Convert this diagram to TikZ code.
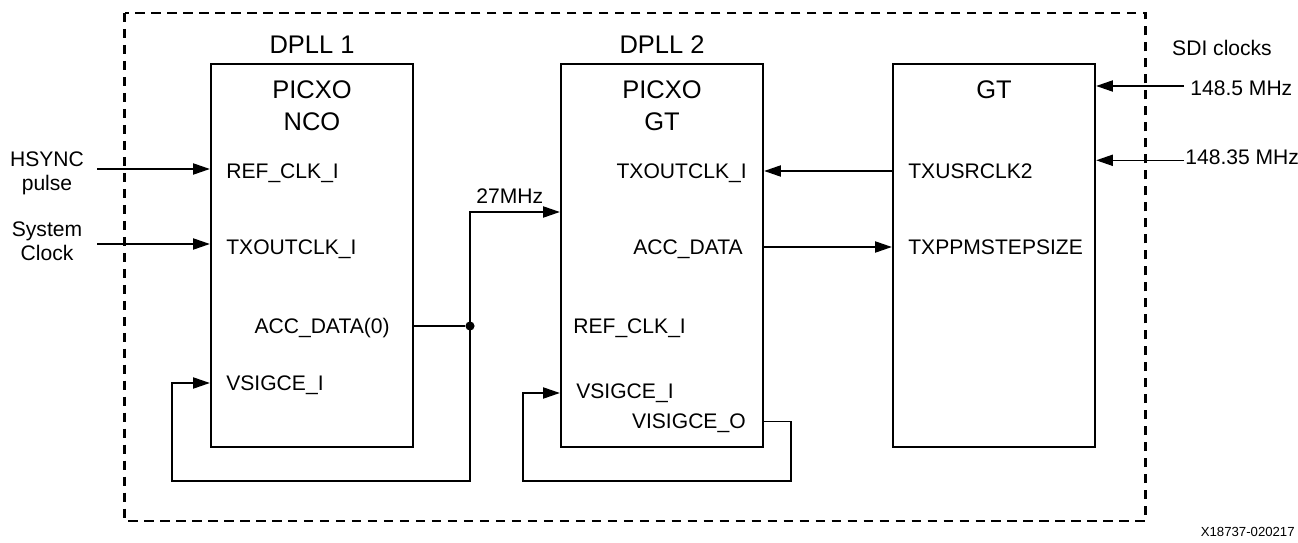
\documentclass[tikz,border=0pt]{standalone}
\usepackage{fontspec}
\setmainfont{Liberation Sans}
\usepackage{tikz}
\usetikzlibrary{arrows, arrows.meta, positioning, calc}
\tikzset{
  block/.style={draw, line width=1.4pt, minimum width=4.04cm,
                minimum height=7.66cm, inner sep=0pt},
  title/.style={font=\fontsize{14.5}{17}\selectfont, inner sep=0pt, anchor=base},
  port/.style={font=\fontsize{12}{13.8}\selectfont, inner sep=0pt},
  sig/.style={-{Triangle[length=9.5pt, width=6.4pt]}, line width=0.7pt},
  wire/.style={line width=0.7pt},
  frame/.style={line width=1.4pt, dash pattern=on 5.4pt off 3.7pt},
  dot/.style={circle, fill, inner sep=0pt, minimum size=5.2pt},
}

\begin{document}
\begin{tikzpicture}[x=0.02cm, y=-0.02cm]
  \useasboundingbox (0,0) rectangle (1298,543);

  % Frame
  \draw[frame] (124.5,13) rectangle (1145.5,521);

  % Blocks
  \node[block] (dpllone) at (312,255.5) {};
  \node[block] (dplltwo) at (662,255.5) {};
  \node[block] (gt) at (994,255.5) {};

  % Titles
  \node[title] (dpllonet) at (312,54) {DPLL 1};
  \node[title] (dplltwot) at (662,54) {DPLL 2};
  \node[title] (picxoone) at (312,98.7) {PICXO};
  \node[title] (nco) at (312,131) {NCO};
  \node[title] (picxotwo) at (662,98.7) {PICXO};
  \node[title] (gttwo) at (662,131) {GT};
  \node[title] (gtt) at (994,98.7) {GT};

  % Ports DPLL 1
  \node[port, anchor=base west] (refone) at (226,178.3) {REF\_CLK\_I};
  \node[port, anchor=base west] (txone) at (226,254.5) {TXOUTCLK\_I};
  \node[port, anchor=base east] (accone) at (390,334) {ACC\_DATA(0)};
  \node[port, anchor=base west] (vsone) at (226,390.6) {VSIGCE\_I};

  % Ports DPLL 2
  \node[port, anchor=base east] (txtwo) at (747,179) {TXOUTCLK\_I};
  \node[port, anchor=base east] (acctwo) at (743,254.5) {ACC\_DATA};
  \node[port, anchor=base west] (reftwo) at (573,334) {REF\_CLK\_I};
  \node[port, anchor=base west] (vstwo) at (576,398.2) {VSIGCE\_I};
  \node[port, anchor=base east] (vsotwo) at (746,428.7) {VISIGCE\_O};

  % Ports GT
  \node[port, anchor=base west] (usrclk) at (908,179) {TXUSRCLK2};
  \node[port, anchor=base west] (ppm) at (908,254.5) {TXPPMSTEPSIZE};

  % Outside labels
  \node[port, align=center] (hsync) at (47,173) {HSYNC\\pulse};
  \node[port, align=center] (sysclk) at (47,241) {System\\Clock};
  \node[port, anchor=base] (sdi) at (1222,55.4) {SDI clocks};
  \node[port, anchor=base west] (fa) at (1190,95.2) {148.5 MHz};
  \node[port, anchor=base west] (fb) at (1185,164.5) {148.35 MHz};
  \node[port, anchor=base] (mhz) at (509.7,204) {27MHz};
  \node[font=\fontsize{7.5}{9}\selectfont, inner sep=0pt, anchor=base east]
    (figid) at (1295,537) {X18737-020217};

  % Inputs
  \coordinate (hsyncin) at (97,169);
  \coordinate (sysin) at (97,244);
  \coordinate (fain) at (1184,86);
  \coordinate (fbin) at (1184,160.3);
  \draw[sig] (hsyncin) -- (dpllone.west |- hsyncin);
  \draw[sig] (sysin) -- (dpllone.west |- sysin);
  \draw[sig] (fain) -- (gt.east |- fain);
  \draw[sig] (fbin) -- (gt.east |- fbin);

  % DPLL 1 output
  \coordinate (mhzin) at (560,212);
  \coordinate (vsonein) at (200,383);
  \coordinate (loopone) at (172,481);
  \node[dot] (junc) at (470,326) {};
  \draw[wire] (dpllone.east |- junc) -- (junc);
  \draw[sig] (junc.center) |- (dplltwo.west |- mhzin);
  \draw[sig] (junc.center) |- (loopone) |- (dpllone.west |- vsonein);

  % DPLL 2 <-> GT
  \coordinate (usrin) at (900,171);
  \coordinate (ppmin) at (900,247);
  \draw[sig] (gt.west |- usrin) -- (dplltwo.east |- usrin);
  \draw[sig] (dplltwo.east |- ppmin) -- (gt.west |- ppmin);

  % DPLL 2 loop
  \coordinate (looptwoa) at (791,421.7);
  \coordinate (looptwob) at (523,481);
  \coordinate (vstwoin) at (550,393);
  \draw[sig] (dplltwo.east |- looptwoa) -- (looptwoa) |- (looptwob)
    |- (dplltwo.west |- vstwoin);

\end{tikzpicture}
\end{document}
